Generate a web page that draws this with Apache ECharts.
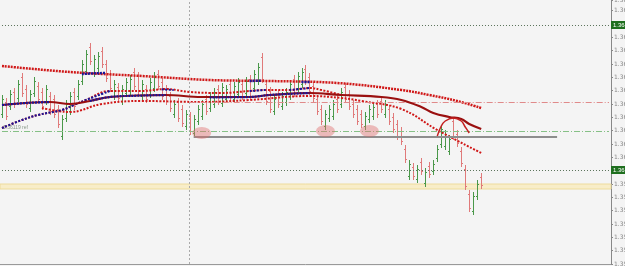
<!DOCTYPE html>
<html>
<head>
<meta charset="utf-8">
<script src="https://cdn.jsdelivr.net/npm/echarts@6/dist/echarts.min.js"></script>
<style>
  html, body { margin: 0; padding: 0; background: #f4f4f4; }
  #main { width: 625px; height: 266px; }
</style>
</head>
<body>
<div id="main"></div>
<script>
// bars: [open, close, low, high]
var bars = [
  [1.36170,1.36215,1.36158,1.36227],[1.36206,1.36164,1.36152,1.36218],[1.36194,1.36230,1.36182,1.36242],
  [1.36236,1.36200,1.36188,1.36248],[1.36218,1.36260,1.36206,1.36272],[1.36281,1.36233,1.36221,1.36293],
  [1.36245,1.36200,1.36188,1.36257],[1.36188,1.36230,1.36176,1.36242],[1.36233,1.36269,1.36221,1.36281],
  [1.36254,1.36215,1.36203,1.36266],[1.36236,1.36194,1.36182,1.36248],[1.36209,1.36245,1.36197,1.36257],
  [1.36224,1.36179,1.36167,1.36236],[1.36215,1.36170,1.36158,1.36227],[1.36185,1.36140,1.36128,1.36197],
  [1.36104,1.36155,1.36092,1.36167],[1.36158,1.36200,1.36146,1.36212],[1.36179,1.36224,1.36167,1.36236],
  [1.36236,1.36194,1.36182,1.36248],[1.36224,1.36260,1.36212,1.36272],[1.36269,1.36320,1.36257,1.36332],
  [1.36299,1.36350,1.36287,1.36362],[1.36371,1.36329,1.36317,1.36383],[1.36293,1.36335,1.36281,1.36347],
  [1.36308,1.36344,1.36296,1.36356],[1.36359,1.36320,1.36308,1.36371],[1.36320,1.36278,1.36266,1.36332],
  [1.36290,1.36248,1.36236,1.36302],[1.36224,1.36260,1.36212,1.36272],[1.36251,1.36218,1.36206,1.36263],
  [1.36209,1.36245,1.36197,1.36257],[1.36233,1.36266,1.36221,1.36278],[1.36239,1.36275,1.36227,1.36287],
  [1.36296,1.36254,1.36242,1.36308],[1.36284,1.36239,1.36227,1.36296],[1.36224,1.36260,1.36212,1.36272],
  [1.36245,1.36215,1.36203,1.36257],[1.36230,1.36266,1.36218,1.36278],[1.36248,1.36284,1.36236,1.36296],
  [1.36290,1.36254,1.36242,1.36302],[1.36266,1.36224,1.36212,1.36278],[1.36245,1.36209,1.36197,1.36257],
  [1.36224,1.36188,1.36176,1.36236],[1.36170,1.36200,1.36158,1.36212],[1.36206,1.36158,1.36146,1.36218],
  [1.36185,1.36143,1.36131,1.36197],[1.36134,1.36170,1.36122,1.36182],[1.36164,1.36119,1.36107,1.36176],
  [1.36113,1.36155,1.36101,1.36167],[1.36149,1.36185,1.36137,1.36197],[1.36164,1.36200,1.36152,1.36212],
  [1.36215,1.36179,1.36167,1.36227],[1.36188,1.36224,1.36176,1.36236],[1.36200,1.36236,1.36188,1.36248],
  [1.36245,1.36209,1.36197,1.36257],[1.36203,1.36251,1.36191,1.36263],[1.36215,1.36245,1.36203,1.36257],
  [1.36260,1.36224,1.36212,1.36272],[1.36215,1.36254,1.36203,1.36266],[1.36230,1.36266,1.36218,1.36278],
  [1.36260,1.36224,1.36212,1.36272],[1.36233,1.36269,1.36221,1.36281],[1.36275,1.36224,1.36212,1.36287],
  [1.36248,1.36290,1.36236,1.36302],[1.36269,1.36311,1.36257,1.36323],[1.36341,1.36275,1.36263,1.36353],
  [1.36260,1.36209,1.36197,1.36272],[1.36239,1.36185,1.36173,1.36251],[1.36179,1.36215,1.36167,1.36227],
  [1.36230,1.36200,1.36188,1.36242],[1.36194,1.36224,1.36182,1.36236],[1.36206,1.36236,1.36194,1.36248],
  [1.36224,1.36260,1.36212,1.36272],[1.36275,1.36233,1.36221,1.36287],[1.36248,1.36284,1.36236,1.36296],
  [1.36260,1.36296,1.36248,1.36308],[1.36305,1.36269,1.36257,1.36317],[1.36281,1.36239,1.36227,1.36293],
  [1.36254,1.36218,1.36206,1.36266],[1.36215,1.36179,1.36167,1.36227],[1.36185,1.36149,1.36137,1.36197],
  [1.36134,1.36170,1.36122,1.36182],[1.36158,1.36185,1.36146,1.36197],[1.36164,1.36200,1.36152,1.36212],
  [1.36215,1.36185,1.36173,1.36227],[1.36200,1.36236,1.36188,1.36248],[1.36251,1.36215,1.36203,1.36263],
  [1.36230,1.36194,1.36182,1.36242],[1.36200,1.36170,1.36158,1.36212],[1.36185,1.36149,1.36137,1.36197],
  [1.36170,1.36140,1.36128,1.36182],[1.36134,1.36164,1.36122,1.36176],[1.36155,1.36185,1.36143,1.36197],
  [1.36164,1.36191,1.36152,1.36203],[1.36200,1.36170,1.36158,1.36212],[1.36209,1.36185,1.36173,1.36221],
  [1.36170,1.36200,1.36158,1.36212],[1.36185,1.36149,1.36137,1.36197],[1.36161,1.36125,1.36113,1.36173],
  [1.36140,1.36104,1.36092,1.36152],[1.36119,1.36089,1.36077,1.36131],[1.36065,1.36035,1.36023,1.36077],
  [1.35984,1.36020,1.35972,1.36032],[1.36011,1.35984,1.35972,1.36023],[1.35975,1.36005,1.35963,1.36017],
  [1.36026,1.35999,1.35987,1.36038],[1.35963,1.35996,1.35951,1.36008],[1.36014,1.35990,1.35978,1.36026],
  [1.35999,1.36020,1.35987,1.36032],[1.36038,1.36065,1.36026,1.36077],[1.36080,1.36125,1.36068,1.36137],
  [1.36074,1.36110,1.36062,1.36122],[1.36059,1.36095,1.36047,1.36107],[1.36149,1.36104,1.36092,1.36161],
  [1.36110,1.36083,1.36071,1.36122],[1.36059,1.36023,1.36011,1.36071],[1.36005,1.35954,1.35942,1.36017],
  [1.35930,1.35888,1.35876,1.35942],[1.35879,1.35924,1.35867,1.35936],[1.35924,1.35960,1.35912,1.35972],
  [1.35981,1.35957,1.35945,1.35993]
]
var slots = 153
var categories = Array.from({length: slots}, function (_, i) { return String(i) })

// moving averages, [bar index, price]
var maSlow = [[0,1.36314],[17,1.36296],[35,1.36284],[52,1.36272],[67,1.36269],[84,1.36263],[100,1.36242],[107,1.36227],[114,1.36209],[120,1.36188]]
var maSlowUp = [[[20,1.36290],[23,1.36292],[26,1.36293]], [[62,1.36269],[65,1.36270]], [[75,1.36266],[77,1.36266]]]
var maMid = [[0,1.36197],[12,1.36206],[17,1.36200],[22,1.36209],[27,1.36221],[41,1.36227],[50,1.36221],[62,1.36221],[67,1.36227],[77,1.36233],[85,1.36227],[95,1.36221],[100,1.36212],[105,1.36191],[108,1.36173],[112,1.36161],[115,1.36155],[117,1.36140],[120,1.36125]]
var maMidUp = [[[0,1.36197],[6,1.36203],[12,1.36206]], [[22,1.36209],[27,1.36221],[34,1.36225],[41,1.36227]], [[52,1.36220],[62,1.36221],[67,1.36227],[77,1.36233]]]
var bandA = [[0,1.36128],[5,1.36152],[9,1.36167],[15,1.36182],[18,1.36197],[21,1.36212],[27,1.36239],[35,1.36239],[41,1.36245],[47,1.36236],[55,1.36233],[62,1.36239],[66,1.36242],[72,1.36242],[77,1.36248],[80,1.36242],[85,1.36227]]
var bandAUp = [[[0,1.36128],[5,1.36152],[9,1.36167],[15,1.36182],[18,1.36197],[21,1.36212],[27,1.36239]], [[40,1.36244],[43,1.36242]], [[62,1.36239],[66,1.36242]], [[72,1.36242],[77,1.36248]]]
var bandB = [[10,1.36188],[14,1.36179],[17,1.36176],[25,1.36200],[35,1.36209],[50,1.36206],[62,1.36212],[77,1.36224],[85,1.36218],[90,1.36209],[100,1.36185],[109,1.36122],[120,1.36053]]

// hand drawn marks
var circles = [[50,1.36113],[81,1.36119],[92,1.36119]]
var arc = [[109,1.36104],[110,1.36134],[111,1.36149],[113,1.36158],[115,1.36149],[116,1.36131],[117,1.36113]]

// levels
var bidLine = 1.36437
var askLine = 1.36002
var refLine = 1.36119
var resLine = 1.36206
var supportLine = 1.36101
var zone = [1.35960, 1.35945]
var zoneTag = 1.35951

var red = '#d01818', darkRed = '#9a1010', blue = '#16169a'
var upColor = '#4a984a', downColor = '#e07a7a'

function ln(data, color, width, dash, z) {
  return {type: 'line', data: data, symbol: 'none', smooth: 0.4, silent: true, z: z || 3,
    lineStyle: {color: color, width: width, type: dash}}
}

function tag(v, bg, fg) {
  return {show: true, position: 'end', distance: 2, formatter: v.toFixed(5), fontSize: 6,
    color: fg, backgroundColor: bg, padding: [1, 2]}
}

function level(v, style, label) {
  return [{coord: ['0', v], lineStyle: style, label: label || {show: false}}, {coord: [String(slots - 1), v]}]
}

// OHLC bars like the terminal draws them
function renderBar(params, api) {
  var i = api.value(0), o = api.value(1), c = api.value(2), l = api.value(3), h = api.value(4)
  var pl = api.coord([i, l]), ph = api.coord([i, h]), po = api.coord([i, o]), pc = api.coord([i, c])
  var x = Math.round(pl[0]) + 0.5
  var col = c >= o ? upColor : downColor
  var st = {stroke: col, lineWidth: 1}
  return {type: 'group', children: [
    {type: 'line', shape: {x1: x, y1: ph[1], x2: x, y2: pl[1]}, style: st},
    {type: 'line', shape: {x1: x - 1.5, y1: Math.round(po[1]) + 0.5, x2: x, y2: Math.round(po[1]) + 0.5}, style: st},
    {type: 'line', shape: {x1: x, y1: Math.round(pc[1]) + 0.5, x2: x + 1.5, y2: Math.round(pc[1]) + 0.5}, style: st}
  ]}
}

var series = [{
  type: 'custom',
  renderItem: renderBar,
  data: bars.map(function (b, i) { return [i].concat(b) }),
  encode: {x: 0, y: [1, 2, 3, 4]},
  silent: true,
  z: 2
}, {
  // levels and zone drawn by hand on the chart
  type: 'line',
  data: [],
  silent: true,
  z: 1,
  markArea: {silent: true, itemStyle: {color: 'rgba(250,232,170,0.6)', borderColor: '#eedc9c', borderWidth: 1},
    data: [[{yAxis: zone[0]}, {yAxis: zone[1]}]]},
  markLine: {
    silent: true, symbol: ['none', 'none'], animation: false,
    label: {show: false},
    data: [
      {xAxis: '47', lineStyle: {color: '#aaa', type: [2, 2], width: 1}},
      level(bidLine, {color: '#5b735b', type: [1, 2], width: 1}, tag(bidLine, '#1f6f1f', '#fff')),
      level(askLine, {color: '#5b735b', type: [1, 2], width: 1}, tag(askLine, '#1f6f1f', '#fff')),
      level(refLine, {color: '#86c086', type: [6, 2, 1, 2], width: 1},
        {show: true, position: 'insideStartTop', distance: 1, formatter: refLine.toFixed(5) + ' ref', fontSize: 5, color: '#8a9a8a'}),
      level(zoneTag, {opacity: 0}, tag(zoneTag, '#c8c8c8', '#333')),
      [{coord: ['47', resLine], lineStyle: {color: '#e08a8a', type: [6, 2, 1, 2], width: 1}}, {coord: [String(slots - 1), resLine]}],
      [{coord: ['48', supportLine], lineStyle: {color: '#8d8d8d', type: 'solid', width: 2}}, {coord: ['139', supportLine]}]
    ]
  }
}]

series.push(ln(maSlow, red, 2.5, [2, 1], 4))
maSlowUp.forEach(function (d) { series.push(ln(d, blue, 2.5, [2, 1], 5)) })
series.push(ln(bandA, red, 2, [2, 1.5], 4))
bandAUp.forEach(function (d) { series.push(ln(d, blue, 2, [2, 1.5], 5)) })
series.push(ln(bandB, red, 2, [2, 1.5], 4))
series.push(ln(maMid, darkRed, 2.2, 'solid', 6))
maMidUp.forEach(function (d) { series.push(ln(d, blue, 2.2, [2, 1], 7)) })
series.push({type: 'scatter', data: circles, symbol: 'circle', symbolSize: [19, 12], silent: true, z: 8,
  itemStyle: {color: 'rgba(222,110,110,0.55)'}})
series.push(ln(arc, '#c42020', 1.5, 'solid', 9))

var chart = echarts.init(document.getElementById('main'))
chart.setOption({
  backgroundColor: '#f4f4f4',
  animation: false,
  grid: {left: 0, right: 14, top: 0, bottom: 2, containLabel: false, outerBoundsMode: 'none'},
  xAxis: {
    type: 'category', data: categories, boundaryGap: true,
    axisLine: {lineStyle: {color: '#999'}},
    axisTick: {interval: 5, length: 3, lineStyle: {color: '#999'}},
    axisLabel: {show: false},
    splitLine: {show: false}
  },
  yAxis: {
    type: 'value', position: 'right', scale: true,
    min: 1.3572, max: 1.36512, interval: 0.0004,
    axisLine: {show: true, lineStyle: {color: '#888'}},
    axisTick: {show: true, length: 2, lineStyle: {color: '#888'}},
    axisLabel: {fontSize: 6, color: '#888', margin: 3, fontFamily: 'DejaVu Sans',
      formatter: function (v) { return v.toFixed(5) }},
    splitLine: {show: false}
  },
  series: series
})
</script>
</body>
</html>
